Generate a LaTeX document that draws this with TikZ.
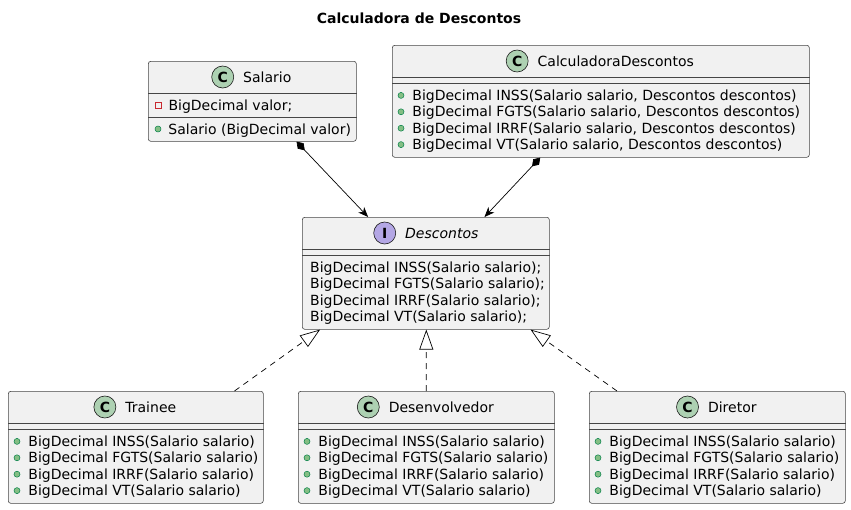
\documentclass[tikz,border=0pt]{standalone}
\usepackage{fontspec}
\setmainfont{DejaVu Sans}
\usepackage{tikz}
\usetikzlibrary{
  positioning
  , calc
  , arrows.meta
}
\definecolor{boxfill}{HTML}{F1F1F1}
\definecolor{boxline}{HTML}{181818}
\definecolor{classicon}{HTML}{ADD1B2}
\definecolor{ifaceicon}{HTML}{B4A7E5}
\definecolor{pubfill}{HTML}{84BE84}
\definecolor{publine}{HTML}{038048}
\definecolor{privline}{HTML}{C82930}
\def\bodyfont{\fontsize{14}{16}\selectfont}
% separator line inside a class box
\newcommand\boxsep[2]{\draw[sepline] ($(#1.north west)+(0,#2)$) -- ($(#1.north east)+(0,#2)$);}

\tikzset{
  umlbox/.style={draw=boxline!80, fill=boxfill, line width=0.6pt,
    rounded corners=2.5pt, inner sep=0pt, anchor=north west},
  sepline/.style={draw=boxline!80, line width=0.6pt},
  hdr/.style={inner sep=0pt, text height=10pt, text depth=0pt},
  member/.style={hdr, anchor=west},
  cicon/.style={circle, draw=boxline, line width=0.6pt, fill=classicon,
    minimum size=22pt, inner sep=0pt, font=\bodyfont\bfseries},
  iicon/.style={cicon, fill=ifaceicon},
  pub/.style={circle, draw=publine, fill=pubfill, line width=0.5pt,
    minimum size=6pt, inner sep=0pt},
  priv/.style={rectangle, draw=privline, line width=0.7pt,
    minimum size=6pt, inner sep=0pt},
  compo/.style={line width=0.7pt,
    {Diamond[length=12pt,width=8pt]}-{Stealth[length=10pt,width=8pt,inset=3pt]}},
  realize/.style={line width=0.7pt, dash pattern=on 6pt off 5pt,
    -{Triangle[length=20pt,width=14pt,fill=white]}},
}

\begin{document}
\begin{tikzpicture}[x=1pt, y=-1pt, font=\bodyfont]
  \fill[white] (0,0) rectangle (851,509);
  \useasboundingbox (0,0) rectangle (851,509);

  \node[font=\bodyfont\bfseries] (title) at (419,18) {Calculadora de Descontos};

  % boxes
  \node[umlbox, minimum width=208pt, minimum height=80pt] (salario) at (148,61) {};
  \node[umlbox, minimum width=417pt, minimum height=112pt] (calc) at (392,45) {};
  \node[umlbox, minimum width=247pt, minimum height=112pt] (descontos) at (302,217) {};
  \node[umlbox, minimum width=255pt, minimum height=112pt] (trainee) at (8,391) {};
  \node[umlbox, minimum width=256pt, minimum height=112pt] (desenv) at (298,391) {};
  \node[umlbox, minimum width=256pt, minimum height=112pt] (diretor) at (589,391) {};

  % Salario
  \boxsep{salario}{32} \boxsep{salario}{56}
  \node[hdr] (salario-name) at ($(salario.north)+(15,16)$) {Salario};
  \node[cicon, left=9pt of salario-name] (salario-icon) {C};
  \node[priv] (salario-priv) at ($(salario.north west)+(10,44)$) {};
  \node[member, right=7pt of salario-priv] (salario-attr) {BigDecimal valor;};
  \node[pub] (salario-pub) at ($(salario.north west)+(10,68)$) {};
  \node[member, right=7pt of salario-pub] (salario-ctor) {Salario (BigDecimal valor)};

  % CalculadoraDescontos
  \boxsep{calc}{32} \boxsep{calc}{38}
  \node[hdr] (calc-name) at ($(calc.north)+(15,16)$) {CalculadoraDescontos};
  \node[cicon, left=9pt of calc-name] (calc-icon) {C};
  \foreach \m [count=\i] in {INSS, FGTS, IRRF, VT} {
    \node[pub] (calc-pub\i) at ($(calc.north west)+(9,34+16.4*\i)$) {};
    \node[member, right=8pt of calc-pub\i] (calc-m\i) {BigDecimal \m(Salario salario, Descontos descontos)};
  }

  % Descontos
  \boxsep{descontos}{32} \boxsep{descontos}{38}
  \node[hdr, font=\bodyfont\itshape] (descontos-name) at ($(descontos.north)+(16,16)$) {Descontos};
  \node[iicon, left=9pt of descontos-name] (descontos-icon) {I};
  \foreach \m [count=\i] in {INSS, FGTS, IRRF, VT} {
    \node[member] (descontos-m\i) at ($(descontos.north west)+(8,34+16.4*\i)$) {BigDecimal \m(Salario salario);};
  }

  % implementations
  \foreach \cls/\nm in {trainee/Trainee, desenv/Desenvolvedor, diretor/Diretor} {
    \boxsep{\cls}{32} \boxsep{\cls}{38}
    \node[hdr] (\cls-name) at ($(\cls.north)+(15,16)$) {\nm};
    \node[cicon, left=9pt of \cls-name] (\cls-icon) {C};
    \foreach \m [count=\i] in {INSS, FGTS, IRRF, VT} {
      \node[pub] (\cls-pub\i) at ($(\cls.north west)+(9,34+16.4*\i)$) {};
      \node[member, right=8pt of \cls-pub\i] (\cls-m\i) {BigDecimal \m(Salario salario)};
    }
  }

  % connectors
  \draw[compo] ($(salario.south west)!0.712!(salario.south east)$)
    -- ($(descontos.north west)!0.267!(descontos.north east)$);
  \draw[compo] ($(calc.south west)!0.355!(calc.south east)$)
    -- ($(descontos.north west)!0.737!(descontos.north east)$);
  \draw[realize] ($(trainee.north west)!0.886!(trainee.north east)$)
    -- ($(descontos.south west)!0.073!(descontos.south east)$);
  \draw[realize] ($(desenv.north west)!0.5!(desenv.north east)$)
    -- ($(descontos.south west)!0.502!(descontos.south east)$);
  \draw[realize] ($(diretor.north west)!0.109!(diretor.north east)$)
    -- ($(descontos.south west)!0.923!(descontos.south east)$);
\end{tikzpicture}
\end{document}
